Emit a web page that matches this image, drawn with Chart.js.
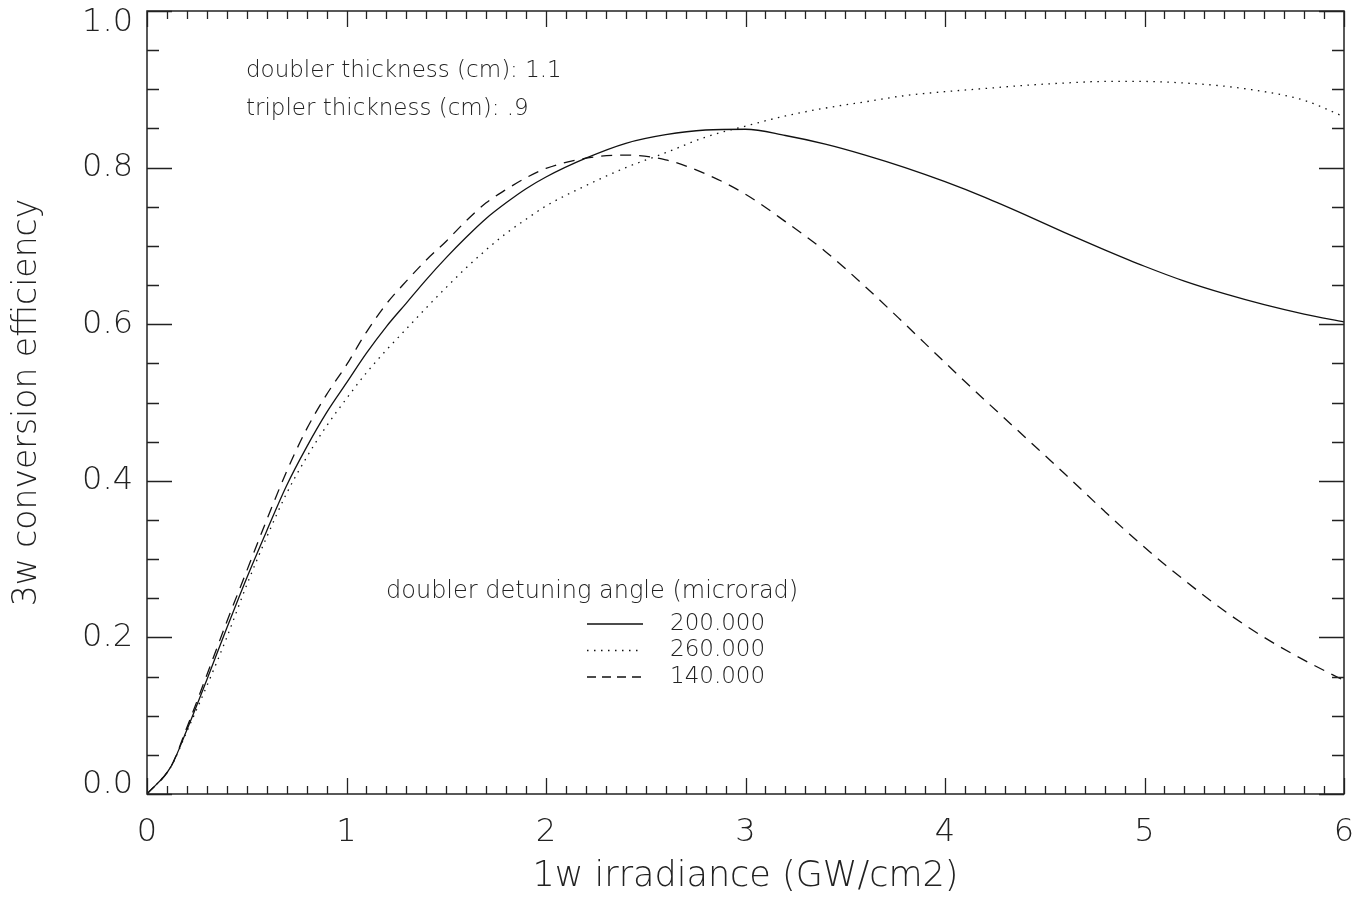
<!DOCTYPE html>
<html>
<head>
<meta charset="utf-8">
<script src="https://cdn.jsdelivr.net/npm/chart.js@4.4.1/dist/chart.umd.min.js"></script>
<style>
  html, body { margin: 0; padding: 0; background: #fff; }
  #wrap { width: 1359px; height: 900px; }
</style>
</head>
<body>
<div id="wrap"><canvas id="effChart" width="1359" height="900"></canvas></div>
<script>
// 1w irradiance (GW/cm2)
const irradiance = [0, 0.12, 0.2, 0.3, 0.4, 0.5, 0.6, 0.7, 0.8, 0.9, 1.0, 1.1, 1.2, 1.3, 1.4, 1.5, 1.6, 1.7, 1.8, 1.9, 2.0,
  2.2, 2.4, 2.6, 2.8, 3.0, 3.2, 3.4, 3.6, 3.8, 4.0, 4.2, 4.4, 4.6, 4.8, 5.0, 5.2, 5.4, 5.6, 5.8, 6.0];

// 3w conversion efficiency, one list per doubler detuning angle
const eff200 = [0, 0.035, 0.082, 0.146, 0.212, 0.276, 0.336, 0.394, 0.443, 0.487, 0.525, 0.563, 0.597, 0.627, 0.657, 0.685, 0.711, 0.735, 0.755, 0.773, 0.788,
  0.812, 0.831, 0.842, 0.848, 0.849, 0.841, 0.830, 0.816, 0.800, 0.782, 0.762, 0.740, 0.717, 0.695, 0.674, 0.655, 0.639, 0.625, 0.613, 0.603];
const eff260 = [0, 0.035, 0.080, 0.138, 0.200, 0.267, 0.328, 0.384, 0.430, 0.470, 0.505, 0.538, 0.567, 0.594, 0.621, 0.647, 0.672, 0.695, 0.716, 0.734, 0.751,
  0.777, 0.800, 0.819, 0.839, 0.853, 0.866, 0.876, 0.884, 0.892, 0.897, 0.901, 0.905, 0.908, 0.910, 0.910, 0.908, 0.904, 0.897, 0.886, 0.865];
const eff140 = [0, 0.035, 0.085, 0.152, 0.220, 0.285, 0.350, 0.412, 0.466, 0.510, 0.548, 0.590, 0.626, 0.655, 0.682, 0.706, 0.732, 0.755, 0.772, 0.787, 0.799,
  0.812, 0.816, 0.810, 0.792, 0.766, 0.731, 0.693, 0.648, 0.600, 0.551, 0.503, 0.456, 0.409, 0.361, 0.315, 0.273, 0.234, 0.200, 0.171, 0.145];

const angleLabels = ['200.000', '260.000', '140.000'];
const noteLines = ['doubler thickness (cm): 1.1', 'tripler thickness (cm): .9'];
const legendTitle = 'doubler detuning angle (microrad)';

const FONT = "'DejaVu Sans', sans-serif";
const INK = '#222';

const toPoints = ys => irradiance.map((x, i) => ({ x, y: ys[i] }));

const lineStyle = {
  borderColor: '#111',
  borderWidth: 1.3,
  pointRadius: 0,
  fill: false,
  cubicInterpolationMode: 'monotone'
};

// ticks pointing inward on all four sides, plus the frame
const frameTicks = {
  id: 'frameTicks',
  afterDraw(chart) {
    const { ctx, chartArea: a, scales: { x, y } } = chart;
    ctx.save();
    ctx.strokeStyle = INK;
    ctx.lineWidth = 1.3;
    ctx.beginPath();
    for (let i = 0; i <= 60; i++) {
      const px = Math.round(x.getPixelForValue(i / 10)) + 0.5;
      const len = i % 10 === 0 ? 16 : 8;
      ctx.moveTo(px, a.bottom); ctx.lineTo(px, a.bottom - len);
      ctx.moveTo(px, a.top); ctx.lineTo(px, a.top + len);
    }
    for (let j = 0; j <= 20; j++) {
      const py = Math.round(y.getPixelForValue(j / 20)) + 0.5;
      const len = j % 4 === 0 ? 25 : 12;
      ctx.moveTo(a.left, py); ctx.lineTo(a.left + len, py);
      ctx.moveTo(a.right, py); ctx.lineTo(a.right - len, py);
    }
    ctx.stroke();
    ctx.lineWidth = 1.5;
    ctx.strokeRect(a.left, a.top, a.right - a.left, a.bottom - a.top);

    // y tick labels, the end ones nudged inside the frame like the original
    ctx.fillStyle = INK;
    ctx.font = `200 32px ${FONT}`;
    ctx.textAlign = 'right';
    ctx.textBaseline = 'middle';
    y.ticks.forEach(t => {
      const py = Math.min(Math.max(y.getPixelForValue(t.value), a.top + 12), a.bottom - 9);
      ctx.fillText(t.label, a.left - 14, py);
    });
    ctx.restore();
  }
};

// thickness notes and the detuning-angle legend
const notes = {
  id: 'notes',
  afterDraw(chart) {
    const { ctx } = chart;
    ctx.save();
    ctx.fillStyle = INK;
    ctx.font = `200 23px ${FONT}`;
    ctx.textBaseline = 'middle';
    ctx.textAlign = 'left';
    noteLines.forEach((t, i) => ctx.fillText(t, 246, 71 + i * 38));

    ctx.font = `200 24px ${FONT}`;
    ctx.fillText(legendTitle, 386, 592);
    ctx.font = `200 23px ${FONT}`;
    chart.data.datasets.forEach((ds, i) => {
      const yy = 624 + i * 26.5;
      ctx.beginPath();
      ctx.strokeStyle = '#111';
      ctx.lineWidth = 1.3;
      ctx.setLineDash(ds.legendDash || []);
      ctx.moveTo(587, yy);
      ctx.lineTo(643, yy);
      ctx.stroke();
      ctx.setLineDash([]);
      ctx.fillText(angleLabels[i], 670, yy);
    });
    ctx.restore();
  }
};

new Chart(document.getElementById('effChart'), {
  type: 'line',
  data: {
    datasets: [
      { ...lineStyle, label: angleLabels[0], data: toPoints(eff200), borderDash: [], legendDash: [] },
      { ...lineStyle, label: angleLabels[1], data: toPoints(eff260), borderDash: [1.5, 5.5], legendDash: [1.5, 5.5] },
      { ...lineStyle, label: angleLabels[2], data: toPoints(eff140), borderDash: [11, 8], legendDash: [9, 6] }
    ]
  },
  options: {
    responsive: false,
    animation: false,
    devicePixelRatio: 1,
    layout: { padding: { left: 0, top: 11, right: 15, bottom: 0 } },
    plugins: { legend: { display: false }, tooltip: { enabled: false } },
    scales: {
      x: {
        type: 'linear',
        min: 0,
        max: 6,
        grid: { display: false, drawTicks: false },
        border: { display: false },
        ticks: { stepSize: 1, padding: 19, color: INK, font: { family: FONT, size: 32, weight: '200' } },
        title: { display: true, text: '1w irradiance (GW/cm2)', color: INK, padding: { top: 0, bottom: 2 },
          font: { family: FONT, size: 35, weight: '200' } },
        afterFit: s => { s.height = 106; s.paddingLeft = 0; s.paddingRight = 0; }
      },
      y: {
        min: 0,
        max: 1,
        grid: { display: false, drawTicks: false },
        border: { display: false },
        ticks: { stepSize: 0.2, display: false, callback: v => v.toFixed(1) },
        title: { display: true, text: '3w conversion efficiency', color: INK, padding: { top: 8, bottom: 0 },
          font: { family: FONT, size: 33, weight: '200' } },
        afterFit: s => { s.width = 147; s.paddingTop = 0; s.paddingBottom = 0; }
      }
    }
  },
  plugins: [frameTicks, notes]
});
</script>
</body>
</html>
